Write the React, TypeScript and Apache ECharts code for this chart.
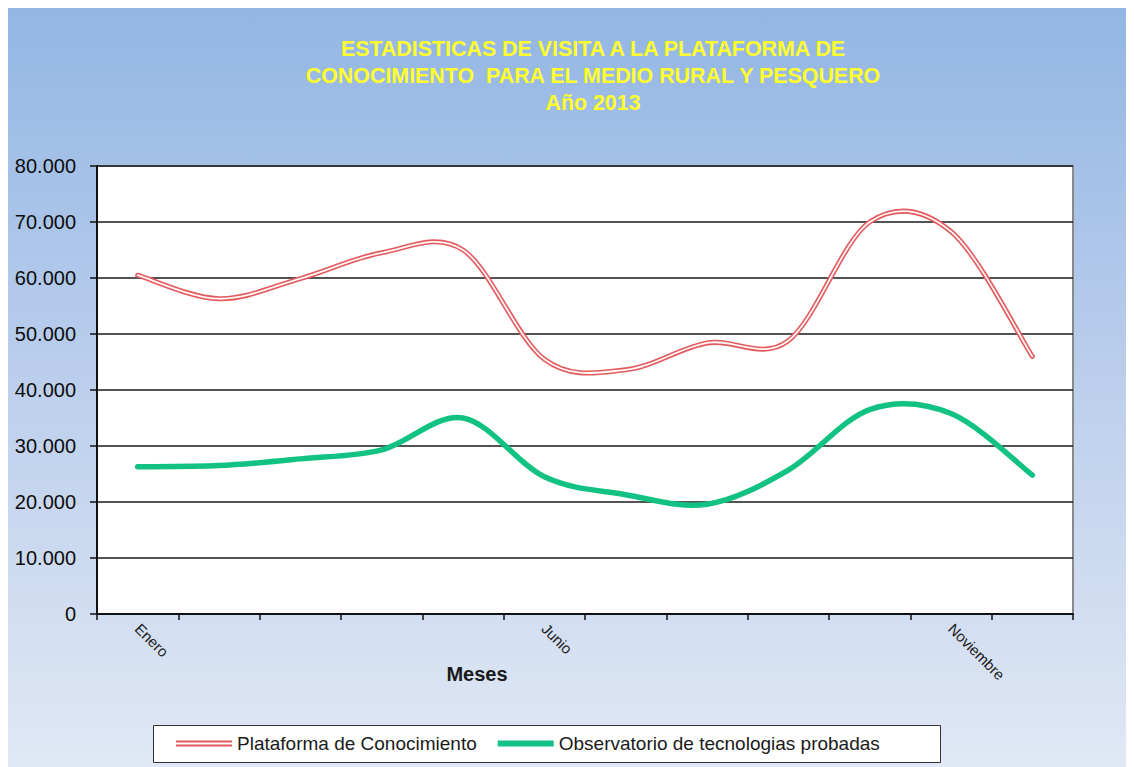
import React, { useEffect, useRef } from "react";
import * as echarts from "echarts";

const months = [
  "Enero", "Febrero", "Marzo", "Abril", "Mayo", "Junio",
  "Julio", "Agosto", "Septiembre", "Octubre", "Noviembre", "Diciembre",
];
const plataforma = [60500, 56300, 59900, 64500, 65000, 45500, 43600, 48400, 48800, 70000, 68300, 46000];
const observatorio = [26300, 26500, 27700, 29300, 35000, 24500, 21300, 19600, 25700, 36500, 35800, 24800];
const seriesNames = ["Plataforma de Conocimiento", "Observatorio de tecnologias probadas"];
const titleLines = [
  "ESTADISTICAS DE VISITA A LA PLATAFORMA DE",
  "CONOCIMIENTO  PARA EL MEDIO RURAL Y PESQUERO",
  "Año 2013",
];
const xAxisTitle = "Meses";
const yMin = 0;
const yMax = 80000;
const yStep = 10000;

// Excel-like smoothed curve (Catmull-Rom style bezier through points)
function smoothPath(pts: number[][]): string {
  const n = pts.length;
  let d = `M${pts[0][0]},${pts[0][1]}`;
  for (let i = 0; i < n - 1; i++) {
    const p0 = pts[Math.max(i - 1, 0)];
    const p1 = pts[i];
    const p2 = pts[i + 1];
    const p3 = pts[Math.min(i + 2, n - 1)];
    const c1x = p1[0] + (p2[0] - p0[0]) / 6;
    const c1y = p1[1] + (p2[1] - p0[1]) / 6;
    const c2x = p2[0] - (p3[0] - p1[0]) / 6;
    const c2y = p2[1] - (p3[1] - p1[1]) / 6;
    d += ` C${c1x},${c1y} ${c2x},${c2y} ${p2[0]},${p2[1]}`;
  }
  return d;
}

function makeRender(values: number[], layers: { color: string; width: number }[]) {
  return (params: any, api: any) => {
    if (params.dataIndex !== 0) return null;
    const pts = values.map((v, i) => api.coord([i, v]));
    const d = smoothPath(pts);
    return {
      type: "group",
      children: layers.map((l) => ({
        type: "path",
        shape: { pathData: d },
        style: {
          fill: "none",
          stroke: l.color,
          lineWidth: l.width,
          lineCap: "round",
          lineJoin: "round",
        },
      })),
    };
  };
}

const fmt = (v: number) => {
  if (v === 0) return "0";
  const s = String(Math.round(v));
  return s.replace(/\B(?=(\d{3})+(?!\d))/g, ".");
};

export default function App() {
  const ref = useRef<HTMLDivElement>(null);
  useEffect(() => {
    document.documentElement.style.overflow = "hidden";
    if (!ref.current) return;
    const chart = echarts.init(ref.current, undefined, { renderer: "svg" });
    const red = "#e35a5e";
    const green = "#12c283";
    chart.setOption({
      animation: false,
      backgroundColor: new echarts.graphic.LinearGradient(0, 0, 0, 1, [
        { offset: 0, color: "#93b6e4" },
        { offset: 0.5, color: "#bccfec" },
        { offset: 1, color: "#e0e8f5" },
      ]),
      textStyle: { fontFamily: "'Liberation Sans', Arial, sans-serif" },
      graphic: [
        {
          type: "text",
          x: 585,
          y: 27,
          style: {
            text: titleLines.join("\n"),
            textAlign: "center",
            textVerticalAlign: "top",
            fill: "#ffff2e",
            font: "bold 21.4px 'Liberation Sans', Arial, sans-serif",
            lineHeight: 27,
          },
        },
        {
          type: "text",
          x: 469,
          y: 666,
          style: {
            text: xAxisTitle,
            textAlign: "center",
            textVerticalAlign: "middle",
            fill: "#1a1a1a",
            font: "bold 20px 'Liberation Sans', Arial, sans-serif",
          },
        },
        {
          type: "rect",
          z: -1,
          shape: { x: 145.5, y: 717.5, width: 787, height: 37 },
          style: { fill: "#ffffff", stroke: "#333333", lineWidth: 1 },
        },
      ],
      legend: {
        left: 168,
        top: 726,
        padding: 0,
        itemGap: 21,
        itemWidth: 56,
        itemHeight: 6,
        data: [
          { name: seriesNames[0], icon: "path://M0,0H56V2H0ZM0,4H56V6H0Z" },
          { name: seriesNames[1], icon: "path://M0,0H56V6H0Z" },
        ],
        textStyle: {
          fontSize: 19,
          color: "#1a1a1a",
          fontFamily: "'Liberation Sans', Arial, sans-serif",
        },
      },
      grid: {
        left: 89,
        right: 61,
        top: 158,
        bottom: 153,
        show: true,
        backgroundColor: "#ffffff",
        borderColor: "#8a8a8a",
        borderWidth: 2,
      },
      xAxis: {
        type: "category",
        data: months,
        boundaryGap: true,
        axisLine: { show: true, lineStyle: { color: "#111", width: 2 } },
        axisTick: { show: true, interval: 0, length: 6, lineStyle: { color: "#111", width: 1.5 } },
        axisLabel: {
          interval: 4,
          rotate: -45,
          margin: 12,
          fontSize: 15,
          color: "#1a1a1a",
        },
        splitLine: { show: false },
      },
      yAxis: {
        type: "value",
        min: yMin,
        max: yMax,
        interval: yStep,
        axisLine: { show: true, lineStyle: { color: "#111", width: 2 } },
        axisTick: { show: true, length: 7, lineStyle: { color: "#111", width: 1.5 } },
        axisLabel: {
          margin: 21,
          fontSize: 20,
          color: "#0d0d0d",
          formatter: fmt,
        },
        splitLine: { show: true, lineStyle: { color: "#1a1a1a", width: 1.5 } },
      },
      series: [
        {
          type: "custom",
          name: seriesNames[1],
          data: observatorio.map((v, i) => [i, v]),
          encode: { x: 0, y: 1 },
          itemStyle: { color: green },
          renderItem: makeRender(observatorio, [{ color: green, width: 5.5 }]),
          z: 3,
        },
        {
          type: "custom",
          name: seriesNames[0],
          data: plataforma.map((v, i) => [i, v]),
          encode: { x: 0, y: 1 },
          itemStyle: { color: red },
          renderItem: makeRender(plataforma, [
            { color: red, width: 5 },
            { color: "#fff6f6", width: 1.8 },
          ]),
          z: 4,
        },
      ],
    });
    return () => chart.dispose();
  }, []);
  return <div ref={ref} style={{ width: 1126, height: 759 }} />;
}
